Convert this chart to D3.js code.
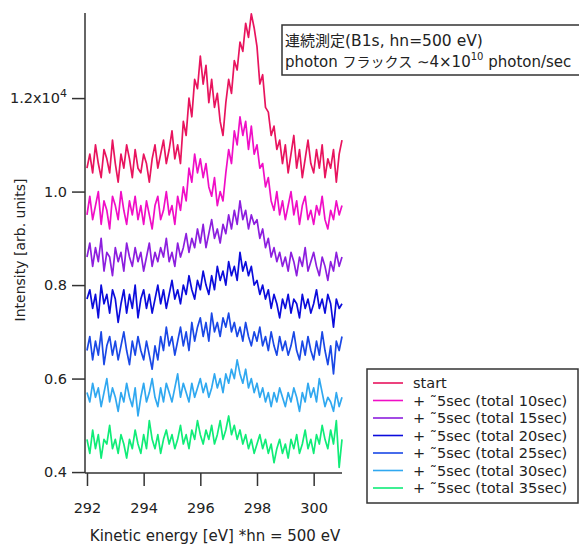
<!DOCTYPE html>
<meta charset="utf-8">
<style>
    html, body { margin: 0; padding: 0; background: #fff; }
    svg { display: block; font-family: "DejaVu Sans", "Noto Sans CJK JP", sans-serif; }
    .axis path, .axis line { stroke: #333; stroke-width: 1.5; }
    .axis text { fill: #222; font-size: 14.5px; font-family: "DejaVu Sans", sans-serif; }
    .cjk { font-family: "Noto Sans CJK JP", sans-serif; }
    .lat { font-family: "DejaVu Sans", sans-serif; }
</style>
<div id="chart"></div>
<script src="https://d3js.org/d3.v7.min.js"></script>
<script>
    // kinetic energy grid (eV), 0.1 eV steps from 292 to 301
    const energyStart = 292, energyStep = 0.1;

    // intensity in units of 10^4 counts
    const start = [1.05,1.08,1.04,1.10,1.06,1.03,1.09,1.07,1.04,1.11,
        1.06,1.02,1.08,1.05,1.10,1.07,1.03,1.09,1.05,1.04,
        1.08,1.06,1.02,1.07,1.10,1.05,1.08,1.11,1.06,1.09,
        1.13,1.07,1.10,1.06,1.15,1.12,1.20,1.16,1.24,1.22,
        1.29,1.23,1.27,1.19,1.24,1.18,1.21,1.15,1.12,1.19,
        1.24,1.21,1.28,1.26,1.32,1.30,1.36,1.33,1.38,1.35,
        1.31,1.23,1.25,1.18,1.17,1.12,1.14,1.09,1.11,1.06,
        1.10,1.04,1.08,1.12,1.05,1.09,1.03,1.07,1.11,1.06,
        1.04,1.09,1.05,1.10,1.03,1.07,1.05,1.09,1.02,1.08,1.11];
    const total10 = [0.95,0.99,0.94,0.97,1.00,0.93,0.98,0.96,0.92,0.99,
        0.97,0.94,1.00,0.96,0.93,0.98,0.95,0.99,0.94,0.97,
        0.93,0.98,0.95,0.92,0.97,0.99,0.94,0.96,1.00,0.95,
        0.97,0.93,0.99,0.96,1.01,0.98,1.05,1.02,1.08,1.04,
        1.07,1.03,1.06,1.01,0.99,1.03,0.97,1.00,0.98,1.04,
        1.09,1.06,1.13,1.10,1.16,1.12,1.15,1.09,1.14,1.08,
        1.10,1.05,1.06,1.01,1.03,0.98,0.96,1.00,0.95,0.98,
        0.94,0.97,1.00,0.95,0.98,0.93,0.97,0.99,0.94,0.96,
        0.93,0.97,0.95,0.99,0.94,0.92,0.96,0.94,0.98,0.95,0.97];
    const total15 = [0.86,0.89,0.84,0.88,0.85,0.90,0.83,0.87,0.86,0.82,
        0.88,0.85,0.87,0.83,0.89,0.86,0.84,0.88,0.85,0.87,
        0.83,0.86,0.89,0.84,0.87,0.85,0.88,0.86,0.90,0.85,
        0.87,0.84,0.89,0.86,0.88,0.91,0.87,0.90,0.88,0.92,
        0.89,0.93,0.88,0.91,0.94,0.90,0.92,0.89,0.93,0.91,
        0.95,0.92,0.96,0.93,0.98,0.94,0.96,0.92,0.95,0.93,
        0.94,0.90,0.92,0.88,0.90,0.86,0.88,0.85,0.87,0.84,
        0.86,0.83,0.87,0.85,0.82,0.86,0.84,0.88,0.83,0.85,
        0.87,0.84,0.82,0.86,0.84,0.81,0.85,0.83,0.87,0.84,0.86];
    const total20 = [0.77,0.79,0.75,0.78,0.73,0.80,0.76,0.78,0.74,0.79,
        0.77,0.72,0.76,0.79,0.74,0.78,0.75,0.80,0.73,0.77,
        0.79,0.75,0.78,0.74,0.77,0.80,0.76,0.79,0.75,0.78,
        0.81,0.77,0.79,0.76,0.80,0.78,0.82,0.79,0.77,0.81,
        0.79,0.83,0.80,0.78,0.82,0.79,0.84,0.81,0.83,0.80,
        0.85,0.82,0.84,0.81,0.87,0.83,0.85,0.82,0.84,0.80,
        0.81,0.78,0.80,0.77,0.79,0.75,0.78,0.76,0.73,0.77,
        0.75,0.78,0.74,0.77,0.76,0.73,0.78,0.75,0.77,0.74,
        0.76,0.79,0.75,0.77,0.74,0.78,0.76,0.71,0.77,0.75,0.76];
    const total25 = [0.66,0.69,0.64,0.68,0.65,0.70,0.63,0.67,0.69,0.65,
        0.68,0.64,0.67,0.70,0.66,0.63,0.68,0.65,0.69,0.66,
        0.64,0.68,0.65,0.62,0.67,0.64,0.69,0.66,0.71,0.67,
        0.69,0.65,0.68,0.71,0.67,0.70,0.66,0.72,0.68,0.71,
        0.73,0.69,0.72,0.68,0.74,0.70,0.72,0.69,0.73,0.71,
        0.74,0.70,0.72,0.69,0.71,0.68,0.72,0.69,0.67,0.70,
        0.68,0.71,0.67,0.69,0.66,0.70,0.67,0.65,0.69,0.66,
        0.68,0.65,0.67,0.70,0.66,0.64,0.68,0.65,0.69,0.66,
        0.64,0.68,0.65,0.70,0.66,0.63,0.67,0.61,0.68,0.66,0.69];
    const total30 = [0.57,0.55,0.59,0.56,0.58,0.54,0.57,0.60,0.55,0.58,
        0.56,0.53,0.57,0.55,0.59,0.56,0.54,0.58,0.52,0.56,
        0.59,0.55,0.57,0.60,0.56,0.54,0.58,0.55,0.59,0.57,
        0.55,0.58,0.61,0.56,0.59,0.57,0.55,0.59,0.56,0.58,
        0.60,0.57,0.59,0.56,0.58,0.61,0.58,0.60,0.57,0.61,
        0.59,0.62,0.60,0.64,0.61,0.59,0.62,0.58,0.60,0.57,
        0.59,0.56,0.58,0.55,0.57,0.54,0.57,0.55,0.58,0.56,
        0.54,0.57,0.55,0.58,0.56,0.53,0.57,0.55,0.59,0.56,
        0.58,0.55,0.60,0.57,0.54,0.56,0.55,0.53,0.57,0.54,0.56];
    const total35 = [0.47,0.44,0.49,0.45,0.48,0.43,0.47,0.46,0.50,0.45,
        0.47,0.44,0.48,0.46,0.43,0.47,0.45,0.49,0.46,0.44,
        0.48,0.45,0.51,0.47,0.45,0.48,0.44,0.47,0.49,0.46,
        0.48,0.45,0.47,0.50,0.46,0.48,0.45,0.49,0.47,0.51,
        0.48,0.46,0.49,0.47,0.50,0.46,0.48,0.51,0.47,0.49,
        0.52,0.48,0.50,0.47,0.49,0.46,0.48,0.45,0.47,0.44,
        0.46,0.48,0.45,0.47,0.44,0.46,0.42,0.45,0.47,0.44,
        0.46,0.43,0.47,0.45,0.48,0.44,0.46,0.49,0.45,0.47,
        0.44,0.48,0.46,0.50,0.47,0.45,0.49,0.46,0.51,0.41,0.47];

    const seriesNames = ["start", "+ \u02DC5sec (total 10sec)", "+ \u02DC5sec (total 15sec)",
        "+ \u02DC5sec (total 20sec)", "+ \u02DC5sec (total 25sec)", "+ \u02DC5sec (total 30sec)",
        "+ \u02DC5sec (total 35sec)"];
    const seriesValues = [start, total10, total15, total20, total25, total30, total35];
    const seriesColors = ["#e8145e", "#f00ec6", "#8c1ede", "#0c0cdc", "#1a48e6", "#30a8f0", "#10ec78"];

    const xTicks = [292, 294, 296, 298, 300];
    const yTicks = [0.4, 0.6, 0.8, 1.0, 1.2];
    const yTickLabels = ["0.4", "0.6", "0.8", "1.0", "1.2x10"];

    const width = 579, height = 545;

    let svg = d3.select("#chart").append("svg")
        .attr("width", width)
        .attr("height", height);

    let x = d3.scaleLinear().domain([291.93, 301.0]).range([85, 342]);
    let y = d3.scaleLinear().domain([0.398, 1.382]).range([473, 13]);

    // traces
    let line = d3.line()
        .x((d, i) => x(energyStart + i * energyStep))
        .y(d => y(d));

    svg.append("g").selectAll("path")
        .data(seriesValues)
        .join("path")
        .attr("d", line)
        .attr("fill", "none")
        .attr("stroke", (d, i) => seriesColors[i])
        .attr("stroke-width", 1.7)
        .attr("stroke-linejoin", "round");

    // axes
    let xAxis = svg.append("g")
        .attr("class", "axis")
        .attr("transform", "translate(0,473)")
        .call(d3.axisBottom(x).tickValues(xTicks).tickSize(13).tickPadding(17).tickFormat(d3.format("d")));
    xAxis.select(".domain").attr("d", "M85,0H342");

    let yAxis = svg.append("g")
        .attr("class", "axis")
        .attr("transform", "translate(85,0)")
        .call(d3.axisLeft(y).tickValues(yTicks).tickSize(13).tickPadding(5)
            .tickFormat((d, i) => yTickLabels[i]));
    yAxis.select(".domain").attr("d", "M0,13V473");
    yAxis.selectAll(".tick text")
        .filter((d, i) => i === yTicks.length - 1)
        .append("tspan")
        .attr("dy", "-0.55em")
        .attr("font-size", "11px")
        .text("4");

    svg.append("text")
        .attr("x", 215)
        .attr("y", 541)
        .attr("text-anchor", "middle")
        .attr("font-size", "15px")
        .attr("fill", "#222")
        .text("Kinetic energy [eV] *hn = 500 eV");

    svg.append("text")
        .attr("transform", "translate(25,250) rotate(-90)")
        .attr("text-anchor", "middle")
        .attr("font-size", "14px")
        .attr("fill", "#222")
        .text("Intensity [arb. units]");

    // annotation box
    let note = svg.append("g");
    note.append("rect")
        .attr("x", 282).attr("y", 25)
        .attr("width", 320).attr("height", 50)
        .attr("fill", "#fff")
        .attr("stroke", "#333")
        .attr("stroke-width", 1.5);
    let line1 = note.append("text")
        .attr("x", 285).attr("y", 46)
        .attr("font-size", "15.5px")
        .attr("fill", "#222");
    line1.append("tspan").attr("class", "cjk").attr("font-size", "15px").text("連続測定");
    line1.append("tspan").attr("class", "lat").text("(B1s, hn=500 eV)");
    let line2 = note.append("text")
        .attr("x", 285).attr("y", 67)
        .attr("font-size", "15px")
        .attr("fill", "#222");
    line2.append("tspan").attr("class", "lat").text("photon ");
    line2.append("tspan").attr("class", "cjk").attr("font-size", "14px").text("フラックス");
    line2.append("tspan").attr("class", "lat").text(" ∼4×10");
    line2.append("tspan").attr("class", "lat").attr("dy", "-7").attr("font-size", "10px").text("10");
    line2.append("tspan").attr("class", "lat").attr("dy", "7").text(" photon/sec");

    // legend
    let legend = svg.append("g");
    legend.append("rect")
        .attr("x", 367).attr("y", 369)
        .attr("width", 211).attr("height", 134)
        .attr("fill", "#fff")
        .attr("stroke", "#333")
        .attr("stroke-width", 1.5);
    let rows = legend.selectAll("g.row")
        .data(seriesNames)
        .join("g")
        .attr("class", "row")
        .attr("transform", (d, i) => `translate(0,${383 + i * 17.5})`);
    rows.append("line")
        .attr("x1", 373).attr("x2", 403)
        .attr("stroke", (d, i) => seriesColors[i])
        .attr("stroke-width", 1.6);
    rows.append("text")
        .attr("x", 413).attr("y", 5)
        .attr("font-size", "14.5px")
        .attr("fill", "#222")
        .text(d => d);
</script>
